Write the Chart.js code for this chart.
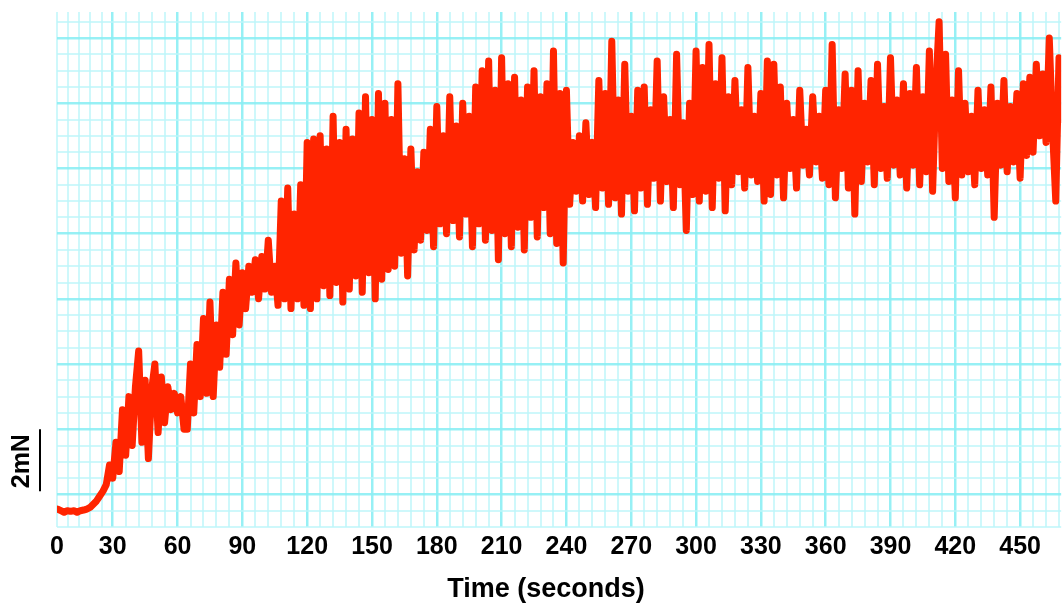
<!DOCTYPE html>
<html>
<head>
<meta charset="utf-8">
<title>Force trace</title>
<script src="https://cdn.jsdelivr.net/npm/chart.js@4.4.1/dist/chart.umd.min.js"></script>
<style>
  html, body { margin: 0; padding: 0; background: #fff; overflow: hidden; }
  #wrap { width: 1064px; height: 605px; position: relative; }
</style>
</head>
<body>
<div id="wrap"><canvas id="grafik"></canvas></div>
<script>
// sampling: first point at 4.5 s, one point every 1.5 s
var startTime = 4.5;
var stepTime = 1.5;

// force (mN), one array per minute
var f0_60 = [-0.45, -0.5, -0.55, -0.5, -0.52, -0.5, -0.55, -0.5, -0.48, -0.45, -0.4, -0.3, -0.2, -0.05, 0.1, 0.3, 0.9, 0.5, 1.6, 0.7,
	2.6, 1.2, 3.0, 1.5, 3.3, 4.4, 1.6, 3.5, 1.1, 3.2, 4.0, 1.9, 3.6, 2.2, 3.3, 2.6, 3.1, 2.5, 3.0, 2.0];
var f60_120 = [2.0, 4.0, 2.5, 4.6, 3.0, 5.4, 3.1, 5.9, 3.0, 5.2, 3.9, 6.2, 4.3, 6.6, 4.9, 7.1, 5.2, 6.8, 5.7, 7.0,
	6.2, 7.2, 6.0, 7.3, 6.3, 7.8, 6.2, 7.0, 5.8, 9.0, 6.0, 9.4, 5.7, 8.6, 6.0, 9.5, 5.8, 10.8, 5.7, 10.9];
var f120_180 = [6.0, 11.0, 6.4, 10.6, 6.1, 11.6, 6.5, 10.8, 5.9, 11.2, 6.3, 10.9, 6.7, 11.7, 6.2, 12.2, 6.8, 11.5, 6.0, 12.3,
	6.6, 12.0, 6.9, 11.5, 7.0, 12.6, 7.4, 10.3, 6.7, 10.6, 7.5, 9.9, 7.8, 10.5, 8.1, 11.2, 7.6, 11.9, 8.3, 11.0];
var f180_240 = [8.0, 12.2, 8.4, 11.3, 7.9, 12.0, 8.6, 11.6, 7.6, 12.5, 8.3, 13.0, 7.8, 13.3, 8.1, 12.4, 7.2, 13.4, 8.0, 12.6,
	7.6, 12.8, 8.2, 12.1, 7.5, 12.5, 8.5, 13.0, 7.9, 12.2, 8.8, 12.6, 8.0, 13.6, 7.7, 12.3, 7.1, 12.4, 8.9, 10.8];
var f240_300 = [9.3, 11.0, 9.0, 11.4, 9.2, 10.8, 8.8, 12.7, 9.4, 12.3, 8.9, 13.9, 9.1, 12.1, 8.6, 13.2, 9.3, 11.6, 8.7, 12.4,
	9.4, 12.5, 8.9, 11.8, 9.7, 13.3, 9.0, 12.2, 9.6, 11.5, 8.8, 13.5, 9.5, 11.4, 8.1, 12.0, 9.2, 13.6, 9.0, 13.1];
var f300_360 = [9.3, 13.8, 8.8, 12.6, 9.7, 13.4, 8.7, 12.2, 9.5, 12.7, 9.9, 11.8, 9.4, 13.1, 9.8, 11.6, 9.6, 12.3, 9.0, 13.3,
	9.2, 13.2, 9.8, 12.5, 9.1, 12.0, 10.0, 11.5, 9.4, 12.4, 10.1, 11.2, 9.8, 12.2, 10.2, 11.6, 9.7, 12.4, 9.5, 13.8];
var f360_420 = [9.1, 11.8, 10.0, 12.9, 9.4, 12.4, 8.6, 13.0, 9.6, 12.0, 10.2, 12.7, 9.5, 13.2, 10.0, 11.9, 9.7, 13.4, 10.1, 12.1,
	9.8, 12.6, 9.4, 12.3, 10.1, 13.1, 9.5, 12.2, 9.9, 13.6, 9.3, 12.5, 14.5, 10.0, 13.5, 9.6, 12.1, 9.1, 13.0, 9.8];
var f420_470 = [12.0, 9.9, 11.6, 9.5, 12.4, 10.0, 11.8, 9.8, 12.5, 8.5, 12.0, 10.1, 12.7, 9.9, 11.9, 10.2, 12.3, 9.7, 12.6, 10.4,
	12.8, 10.5, 13.2, 11.0, 12.9, 10.8, 14.0, 11.2, 9.0, 13.4, 11.5];

var xTickLabels = [0, 30, 60, 90, 120, 150, 180, 210, 240, 270, 300, 330, 360, 390, 420, 450];
var xMin = 4.2, xMax = 469;
var yMin = -1.0, yMax = 14.8;

var warnaGaris = 'rgb(255, 36, 0)';
var gridMayor = 'rgba(140, 238, 244, 0.9)';
var gridMinor = 'rgba(190, 246, 250, 0.75)';
var hurufTebal = '"Liberation Sans", Arial, sans-serif';

var semua = [].concat(f0_60, f60_120, f120_180, f180_240, f240_300, f300_360, f360_420, f420_470);
var titik = [];
for (var i = 0; i < semua.length; i++) {
	titik.push({x: startTime + i * stepTime, y: semua[i]});
}

// scale bar "2mN" at left + axis title under the ticks
var skalaBar = {
	id: 'skalaBar',
	afterDraw: function(chart) {
		var ctx = chart.ctx;
		var y = chart.scales.y;
		var yTop = y.getPixelForValue(2);
		var yBot = y.getPixelForValue(0.1);
		ctx.save();
		ctx.strokeStyle = '#000';
		ctx.lineWidth = 2;
		ctx.beginPath();
		ctx.moveTo(40, yTop);
		ctx.lineTo(40, yBot);
		ctx.stroke();
		ctx.fillStyle = '#000';
		ctx.textAlign = 'center';
		ctx.textBaseline = 'middle';
		ctx.font = 'bold 27px ' + hurufTebal;
		ctx.fillText('Time (seconds)', 546, 590);
		ctx.translate(22, (yTop + yBot) / 2 + 1);
		ctx.rotate(-Math.PI / 2);
		ctx.font = 'bold 25px ' + hurufTebal;
		ctx.fillText('2mN', 0, 0);
		ctx.restore();
	}
};

var grafik = new Chart(document.getElementById('grafik'), {
	type: 'line',
	data: {
		datasets: [{
			data: titik,
			borderColor: warnaGaris,
			borderWidth: 7,
			borderJoinStyle: 'round',
			borderCapStyle: 'round',
			pointRadius: 0,
			tension: 0,
			fill: false
		}]
	},
	options: {
		responsive: true,
		maintainAspectRatio: false,
		animation: false,
		layout: { padding: { left: 57, top: 12, right: -6, bottom: 38 } },
		plugins: { legend: { display: false }, tooltip: { enabled: false } },
		scales: {
			x: {
				type: 'linear',
				min: xMin,
				max: xMax,
				afterBuildTicks: function(scale) {
					var t = [{value: xMin}];
					// first block of the paper grid is squeezed between the edge and 30 s
					for (var k = 1; k < 5; k++) t.push({value: xMin + k * (30 - xMin) / 5});
					for (var v = 30; v <= 468; v += 6) t.push({value: v});
					scale.ticks = t;
				},
				ticks: {
					autoSkip: false,
					maxRotation: 0,
					padding: 5,
					color: '#000',
					font: { family: hurufTebal, size: 25, weight: 'bold' },
					callback: function(value) {
						if (value === xMin) return String(xTickLabels[0]);
						if (xTickLabels.indexOf(value) >= 0) return String(value);
						return '';
					}
				},
				grid: {
					drawTicks: false,
					color: function(c) { return (c.tick && c.tick.value % 30 === 0) ? gridMayor : gridMinor; },
					lineWidth: function(c) { return (c.tick && c.tick.value % 30 === 0) ? 2.5 : 2; }
				},
				border: { display: false }
			},
			y: {
				type: 'linear',
				min: yMin,
				max: yMax,
				afterBuildTicks: function(scale) {
					var t = [];
					for (var k = -2; k <= 29; k++) t.push({value: k / 2});
					scale.ticks = t;
				},
				afterFit: function(scale) { scale.width = 0; },
				ticks: { display: false },
				grid: {
					drawTicks: false,
					color: function(c) { return (c.tick && c.tick.value % 2 === 0) ? gridMayor : gridMinor; },
					lineWidth: function(c) { return (c.tick && c.tick.value % 2 === 0) ? 2.5 : 2; }
				},
				border: { display: false }
			}
		}
	},
	plugins: [skalaBar]
});
</script>
</body>
</html>
